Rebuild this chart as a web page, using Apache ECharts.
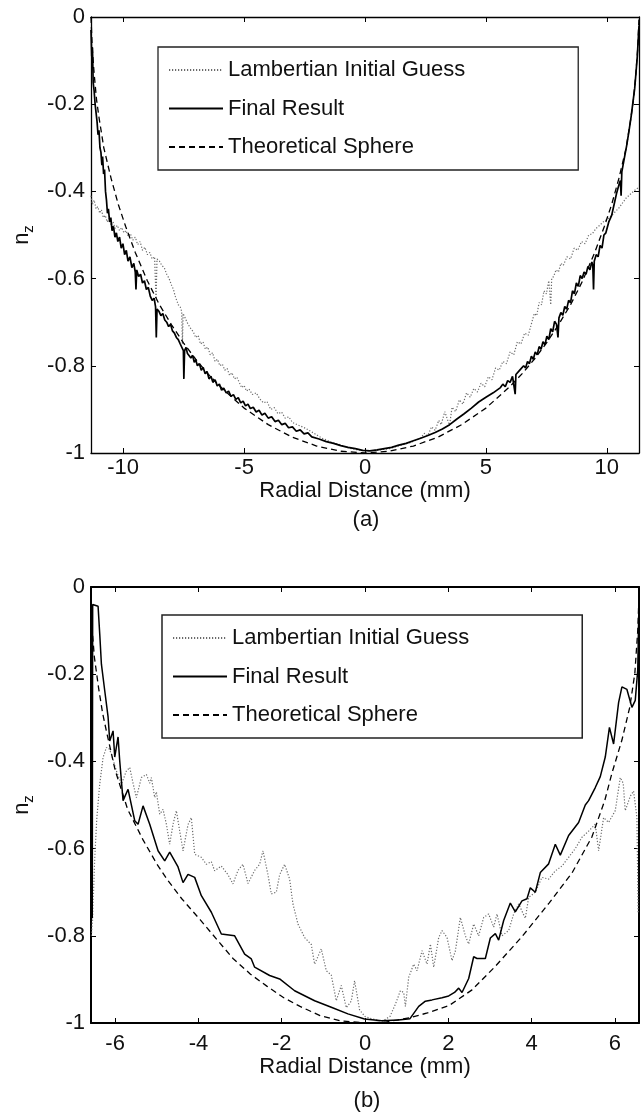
<!DOCTYPE html>
<html>
<head>
<meta charset="utf-8" />
<title>Surface normal nz vs radial distance</title>
<script src="https://cdn.jsdelivr.net/npm/echarts@6/dist/echarts.min.js"></script>
<style>
  html, body { margin: 0; padding: 0; background: #fff; }
  #main { width: 644px; height: 1116px; }
</style>
</head>
<body>
<div id="main"></div>
<script>
// ---- panel (a) ----
var aGuess = [
  [-11.33,-0.41],[-11.27,-0.43],[-11.2,-0.42],[-11.12,-0.44],[-11.05,-0.435],[-10.97,-0.45],[-10.9,-0.442],
  [-10.82,-0.46],[-10.74,-0.455],[-10.66,-0.47],[-10.58,-0.462],[-10.5,-0.478],[-10.42,-0.47],[-10.33,-0.485],
  [-10.24,-0.478],[-10.15,-0.49],[-10.06,-0.483],[-9.97,-0.495],[-9.88,-0.49],[-9.79,-0.503],[-9.7,-0.497],
  [-9.6,-0.512],[-9.5,-0.505],[-9.4,-0.522],[-9.3,-0.515],[-9.2,-0.535],[-9.1,-0.528],[-9.0,-0.545],
  [-8.9,-0.54],[-8.8,-0.555],[-8.7,-0.55],[-8.64,-0.65],[-8.6,-0.555],[-8.5,-0.56],[-8.4,-0.57],
  [-8.3,-0.575],[-8.2,-0.59],[-8.1,-0.6],[-8.0,-0.615],[-7.92,-0.625],[-7.85,-0.64],[-7.78,-0.64],
  [-7.72,-0.66],[-7.64,-0.665],[-7.58,-0.675],[-7.55,-0.75],[-7.52,-0.68],[-7.44,-0.69],[-7.36,-0.7],
  [-7.28,-0.708],[-7.2,-0.715],[-7.1,-0.722],[-7.0,-0.735],[-6.9,-0.73],[-6.8,-0.75],[-6.7,-0.745],
  [-6.6,-0.762],[-6.5,-0.757],[-6.4,-0.775],[-6.3,-0.77],[-6.2,-0.79],[-6.1,-0.785],[-6.0,-0.8],
  [-5.9,-0.796],[-5.8,-0.81],[-5.7,-0.806],[-5.6,-0.822],[-5.5,-0.816],[-5.4,-0.83],[-5.3,-0.826],
  [-5.2,-0.838],[-5.1,-0.85],[-5.0,-0.845],[-4.9,-0.858],[-4.8,-0.853],[-4.65,-0.866],[-4.5,-0.862],
  [-4.35,-0.876],[-4.2,-0.885],[-4.05,-0.882],[-3.9,-0.9],[-3.75,-0.896],[-3.6,-0.91],[-3.45,-0.906],
  [-3.3,-0.92],[-3.15,-0.917],[-3.0,-0.93],[-2.8,-0.935],[-2.47,-0.943],[-2.1,-0.955],[-1.78,-0.966],
  [-1.4,-0.975],[-1.09,-0.98],[-0.7,-0.988],[-0.4,-0.992],[0,-0.995],[0.5,-0.994],[1.0,-0.99],
  [1.5,-0.982],[1.94,-0.975],[2.3,-0.966],[2.45,-0.955],[2.6,-0.96],[2.75,-0.94],[2.9,-0.948],
  [3.05,-0.925],[3.15,-0.935],[3.3,-0.905],[3.45,-0.93],[3.5,-0.935],[3.6,-0.895],[3.75,-0.905],
  [3.9,-0.878],[4.05,-0.888],[4.2,-0.862],[4.35,-0.872],[4.5,-0.852],[4.65,-0.86],[4.8,-0.84],
  [4.95,-0.848],[5.1,-0.825],[5.25,-0.832],[5.4,-0.805],[5.55,-0.81],[5.7,-0.79],[5.85,-0.795],
  [6.0,-0.768],[6.15,-0.775],[6.3,-0.745],[6.45,-0.75],[6.6,-0.725],[6.75,-0.73],[6.9,-0.7],
  [7.0,-0.68],[7.1,-0.685],[7.2,-0.655],[7.3,-0.66],[7.4,-0.628],[7.5,-0.635],[7.6,-0.605],
  [7.68,-0.66],[7.72,-0.6],[7.8,-0.595],[7.9,-0.58],[8.0,-0.585],[8.1,-0.565],[8.2,-0.57],
  [8.35,-0.55],[8.5,-0.555],[8.65,-0.53],[8.8,-0.535],[8.95,-0.515],[9.1,-0.52],[9.25,-0.5],
  [9.4,-0.497],[9.55,-0.485],[9.7,-0.478],[9.85,-0.47],[10.0,-0.465],[10.2,-0.455],[10.5,-0.438],
  [10.8,-0.415],[11.1,-0.4],[11.33,-0.39]
];
var aFinal = [
  [-11.33,-0.03],[-11.3,-0.09],[-11.27,-0.07],[-11.24,-0.15],[-11.2,-0.17],[-11.16,-0.2],[-11.12,-0.22],
  [-11.08,-0.24],[-11.04,-0.27],[-11.0,-0.26],[-10.96,-0.3],[-10.92,-0.31],[-10.88,-0.34],[-10.85,-0.32],
  [-10.81,-0.36],[-10.77,-0.35],[-10.73,-0.4],[-10.69,-0.42],[-10.65,-0.45],[-10.61,-0.44],[-10.56,-0.47],
  [-10.51,-0.46],[-10.46,-0.49],[-10.4,-0.48],[-10.34,-0.505],[-10.28,-0.495],[-10.22,-0.515],[-10.15,-0.505],
  [-10.08,-0.53],[-10.01,-0.52],[-9.94,-0.545],[-9.87,-0.535],[-9.8,-0.56],[-9.72,-0.55],[-9.64,-0.575],
  [-9.56,-0.565],[-9.5,-0.585],[-9.47,-0.625],[-9.44,-0.58],[-9.36,-0.595],[-9.28,-0.59],[-9.2,-0.61],
  [-9.12,-0.605],[-9.04,-0.625],[-8.96,-0.62],[-8.88,-0.64],[-8.8,-0.65],[-8.72,-0.645],[-8.66,-0.665],
  [-8.63,-0.735],[-8.6,-0.67],[-8.52,-0.675],[-8.44,-0.685],[-8.36,-0.68],[-8.28,-0.695],[-8.2,-0.7],
  [-8.12,-0.71],[-8.04,-0.705],[-7.96,-0.72],[-7.88,-0.725],[-7.8,-0.735],[-7.72,-0.74],[-7.64,-0.75],
  [-7.56,-0.748],[-7.51,-0.765],[-7.49,-0.83],[-7.46,-0.765],[-7.4,-0.758],[-7.34,-0.772],[-7.27,-0.768],
  [-7.2,-0.782],[-7.13,-0.776],[-7.06,-0.792],[-7.0,-0.786],[-6.93,-0.8],[-6.85,-0.795],[-6.77,-0.81],
  [-6.69,-0.804],[-6.61,-0.818],[-6.53,-0.813],[-6.45,-0.83],[-6.37,-0.824],[-6.29,-0.838],[-6.2,-0.832],
  [-6.11,-0.846],[-6.02,-0.842],[-5.93,-0.856],[-5.84,-0.851],[-5.74,-0.862],[-5.64,-0.858],[-5.54,-0.87],
  [-5.44,-0.866],[-5.34,-0.877],[-5.24,-0.873],[-5.14,-0.885],[-5.04,-0.881],[-4.94,-0.892],[-4.84,-0.888],
  [-4.74,-0.898],[-4.62,-0.895],[-4.5,-0.906],[-4.38,-0.902],[-4.26,-0.913],[-4.14,-0.909],[-4.0,-0.92],
  [-3.86,-0.917],[-3.72,-0.928],[-3.58,-0.925],[-3.44,-0.935],[-3.3,-0.932],[-3.16,-0.942],[-3.0,-0.94],
  [-2.84,-0.95],[-2.68,-0.947],[-2.52,-0.956],[-2.36,-0.954],[-2.2,-0.963],[-1.9,-0.968],[-1.6,-0.974],
  [-1.3,-0.978],[-1.0,-0.983],[-0.7,-0.987],[-0.4,-0.99],[-0.1,-0.994],[0.2,-0.995],[0.5,-0.993],
  [0.8,-0.99],[1.1,-0.987],[1.4,-0.982],[1.7,-0.978],[2.0,-0.972],[2.3,-0.966],[2.6,-0.96],[2.9,-0.953],
  [3.2,-0.945],[3.5,-0.935],[3.8,-0.922],[4.1,-0.91],[4.4,-0.897],[4.7,-0.883],[5.0,-0.872],[5.3,-0.862],
  [5.6,-0.85],[5.7,-0.842],[5.8,-0.848],[5.9,-0.834],[6.0,-0.838],[6.1,-0.824],[6.18,-0.826],[6.21,-0.865],
  [6.24,-0.82],[6.32,-0.822],[6.4,-0.81],[6.48,-0.814],[6.56,-0.8],[6.64,-0.805],[6.72,-0.79],[6.8,-0.795],
  [6.88,-0.778],[6.96,-0.785],[7.04,-0.768],[7.12,-0.775],[7.2,-0.756],[7.28,-0.762],[7.36,-0.745],
  [7.44,-0.752],[7.52,-0.732],[7.6,-0.74],[7.68,-0.715],[7.76,-0.722],[7.84,-0.698],[7.92,-0.705],
  [7.98,-0.735],[8.02,-0.69],[8.1,-0.678],[8.18,-0.684],[8.26,-0.664],[8.34,-0.67],[8.42,-0.65],
  [8.5,-0.655],[8.58,-0.628],[8.66,-0.635],[8.74,-0.61],[8.82,-0.618],[8.9,-0.593],[8.98,-0.6],
  [9.06,-0.585],[9.14,-0.59],[9.22,-0.572],[9.3,-0.58],[9.38,-0.562],[9.42,-0.57],[9.45,-0.625],
  [9.48,-0.56],[9.56,-0.545],[9.64,-0.55],[9.72,-0.524],[9.8,-0.53],[9.88,-0.5],[9.96,-0.495],
  [10.08,-0.47],[10.2,-0.455],[10.3,-0.43],[10.4,-0.405],[10.5,-0.385],[10.56,-0.375],[10.59,-0.41],
  [10.62,-0.355],[10.72,-0.325],[10.82,-0.295],[10.92,-0.26],[11.0,-0.23],[11.08,-0.195],[11.15,-0.165],
  [11.21,-0.125],[11.26,-0.09],[11.3,-0.05],[11.33,-0.02]
];
var aSphere = [
  [-11.33,0],[-11.28,-0.07],[-11.2,-0.13],[-11.1,-0.19],[-11.0,-0.23],[-10.8,-0.3],[-10.5,-0.37],
  [-10.2,-0.43],[-9.9,-0.48],[-9.5,-0.54],[-9.0,-0.605],[-8.5,-0.66],[-8.0,-0.706],[-7.5,-0.748],
  [-7.0,-0.785],[-6.5,-0.818],[-6.0,-0.847],[-5.0,-0.897],[-4.0,-0.935],[-3.0,-0.964],[-2.0,-0.984],
  [-1.0,-0.996],[0,-1],[1.0,-0.996],[2.0,-0.984],[3.0,-0.964],[4.0,-0.935],[5.0,-0.897],[6.0,-0.847],
  [6.5,-0.818],[7.0,-0.785],[7.5,-0.748],[8.0,-0.706],[8.5,-0.66],[9.0,-0.605],[9.5,-0.54],[9.9,-0.48],
  [10.2,-0.43],[10.5,-0.37],[10.8,-0.3],[11.0,-0.23],[11.1,-0.19],[11.2,-0.13],[11.28,-0.07],[11.33,0]
];

// ---- panel (b) ----
var bGuess = [
  [-6.57,-0.8],[-6.54,-0.76],[-6.52,-0.7],[-6.49,-0.62],[-6.44,-0.53],[-6.37,-0.452],[-6.29,-0.391],
  [-6.21,-0.368],[-6.15,-0.37],[-6.09,-0.383],[-5.97,-0.422],[-5.85,-0.452],[-5.73,-0.422],[-5.65,-0.414],
  [-5.57,-0.45],[-5.49,-0.483],[-5.37,-0.437],[-5.25,-0.43],[-5.17,-0.45],[-5.13,-0.437],[-5.05,-0.483],
  [-5.01,-0.47],[-4.93,-0.521],[-4.85,-0.51],[-4.77,-0.544],[-4.69,-0.59],[-4.61,-0.544],[-4.53,-0.513],
  [-4.45,-0.56],[-4.37,-0.605],[-4.25,-0.545],[-4.17,-0.529],[-4.09,-0.613],[-3.93,-0.62],[-3.81,-0.636],
  [-3.69,-0.63],[-3.61,-0.651],[-3.45,-0.64],[-3.29,-0.66],[-3.17,-0.681],[-3.05,-0.65],[-2.93,-0.636],
  [-2.81,-0.68],[-2.65,-0.65],[-2.53,-0.636],[-2.45,-0.605],[-2.33,-0.66],[-2.25,-0.704],[-2.13,-0.7],
  [-2.05,-0.66],[-1.93,-0.636],[-1.81,-0.67],[-1.73,-0.727],[-1.61,-0.773],[-1.45,-0.804],[-1.29,-0.82],
  [-1.21,-0.865],[-1.05,-0.83],[-0.93,-0.88],[-0.81,-0.89],[-0.69,-0.949],[-0.57,-0.914],[-0.45,-0.965],
  [-0.33,-0.95],[-0.25,-0.903],[-0.13,-0.97],[0.0,-0.985],[0.15,-0.99],[0.41,-0.996],[0.6,-0.985],
  [0.73,-0.957],[0.85,-0.926],[0.93,-0.93],[0.97,-0.962],[1.05,-0.895],[1.17,-0.865],[1.25,-0.88],
  [1.37,-0.834],[1.49,-0.865],[1.57,-0.819],[1.65,-0.872],[1.77,-0.804],[1.85,-0.788],[1.97,-0.804],
  [2.09,-0.857],[2.17,-0.835],[2.29,-0.758],[2.41,-0.8],[2.49,-0.819],[2.61,-0.773],[2.73,-0.8],
  [2.85,-0.758],[2.97,-0.75],[3.09,-0.78],[3.17,-0.75],[3.29,-0.8],[3.45,-0.788],[3.57,-0.75],
  [3.69,-0.727],[3.85,-0.76],[3.93,-0.712],[4.09,-0.7],[4.25,-0.666],[4.41,-0.67],[4.57,-0.651],
  [4.73,-0.64],[4.89,-0.62],[5.05,-0.6],[5.21,-0.574],[5.37,-0.56],[5.53,-0.544],[5.61,-0.605],
  [5.73,-0.529],[5.85,-0.54],[6.01,-0.513],[6.13,-0.437],[6.2,-0.45],[6.25,-0.513],[6.37,-0.48],
  [6.45,-0.468],[6.53,-0.529],[6.56,-0.75]
];
var bFinal = [
  [-6.55,-0.76],[-6.54,-0.04],[-6.41,-0.044],[-6.37,-0.108],[-6.33,-0.177],[-6.25,-0.238],[-6.17,-0.298],
  [-6.13,-0.353],[-6.05,-0.33],[-6.01,-0.39],[-5.93,-0.344],[-5.89,-0.399],[-5.81,-0.49],[-5.69,-0.464],
  [-5.53,-0.536],[-5.45,-0.544],[-5.33,-0.502],[-5.17,-0.544],[-4.97,-0.605],[-4.81,-0.628],[-4.69,-0.608],
  [-4.49,-0.642],[-4.37,-0.678],[-4.25,-0.659],[-4.09,-0.666],[-3.93,-0.708],[-3.69,-0.746],[-3.45,-0.796],
  [-3.13,-0.8],[-2.89,-0.842],[-2.73,-0.853],[-2.65,-0.872],[-2.29,-0.891],[-2.05,-0.899],[-1.69,-0.926],
  [-1.21,-0.949],[-0.81,-0.964],[-0.41,-0.979],[-0.01,-0.991],[0.4,-0.995],[0.8,-0.993],[1.08,-0.99],
  [1.29,-0.962],[1.45,-0.95],[1.61,-0.947],[1.85,-0.942],[2.01,-0.938],[2.15,-0.93],[2.25,-0.92],
  [2.33,-0.93],[2.49,-0.898],[2.61,-0.848],[2.69,-0.852],[2.89,-0.852],[3.01,-0.805],[3.13,-0.795],
  [3.21,-0.81],[3.33,-0.765],[3.49,-0.725],[3.61,-0.745],[3.77,-0.72],[3.89,-0.715],[3.97,-0.69],
  [4.09,-0.7],[4.21,-0.655],[4.41,-0.635],[4.57,-0.59],[4.69,-0.615],[4.89,-0.57],[5.13,-0.54],
  [5.29,-0.5],[5.37,-0.49],[5.53,-0.46],[5.65,-0.435],[5.77,-0.39],[5.87,-0.322],[5.97,-0.36],
  [6.09,-0.265],[6.17,-0.229],[6.29,-0.235],[6.41,-0.276],[6.49,-0.26],[6.55,-0.19],[6.58,-0.03]
];
var bSphere = [
  [-6.58,-0.02],[-6.55,-0.1],[-6.5,-0.16],[-6.4,-0.23],[-6.3,-0.29],[-6.2,-0.335],[-6.0,-0.42],
  [-5.7,-0.51],[-5.33,-0.58],[-5.0,-0.635],[-4.75,-0.671],[-4.4,-0.715],[-3.96,-0.763],[-3.5,-0.815],
  [-3.17,-0.852],[-2.75,-0.888],[-2.35,-0.916],[-1.95,-0.942],[-1.56,-0.962],[-1.08,-0.983],[-0.6,-0.995],
  [0.0,-1.0],[0.5,-0.998],[1.06,-0.988],[1.5,-0.977],[2.02,-0.96],[2.57,-0.924],[3.12,-0.871],
  [3.77,-0.802],[4.42,-0.725],[4.97,-0.656],[5.45,-0.573],[5.76,-0.489],[5.93,-0.427],[6.17,-0.351],
  [6.36,-0.275],[6.48,-0.198],[6.55,-0.1],[6.58,-0.02]
];

var seriesNames = ['Lambertian Initial Guess', 'Final Result', 'Theoretical Sphere'];
var aXTicks = [-10, -5, 0, 5, 10];
var bXTicks = [-6, -4, -2, 0, 2, 4, 6];
var yTicks = [-1, -0.8, -0.6, -0.4, -0.2, 0];

var font = '"Liberation Sans", Arial, sans-serif';
var ink = '#111';

function panelAxes(gi, xMax, xTicks, lw, labelMargin, nameGap) {
  var line = { show: true, onZero: false, lineStyle: { color: '#000', width: lw } };
  function tick(vals) {
    return { show: true, inside: true, length: 5, customValues: vals, lineStyle: { color: '#000', width: 1 } };
  }
  var xs = [{
    gridIndex: gi, type: 'value', position: 'bottom', min: -xMax, max: xMax,
    axisLine: line, axisTick: tick(xTicks), splitLine: { show: false },
    axisLabel: { customValues: xTicks, fontSize: 22, color: ink, fontFamily: font, margin: labelMargin },
    name: 'Radial Distance (mm)', nameLocation: 'middle', nameGap: nameGap,
    nameTextStyle: { fontSize: 22, color: ink, fontFamily: font }
  }, {
    gridIndex: gi, type: 'value', position: 'top', min: -xMax, max: xMax,
    axisLine: line, axisTick: tick(xTicks), splitLine: { show: false }, axisLabel: { show: false }
  }];
  var ys = [{
    gridIndex: gi, type: 'value', position: 'left', min: -1, max: 0,
    axisLine: line, axisTick: tick(yTicks), splitLine: { show: false },
    axisLabel: { customValues: yTicks, fontSize: 22, color: ink, fontFamily: font, margin: 6 },
    name: '{n|n}{z|z}', nameLocation: 'middle', nameGap: 50, nameRotate: 90,
    nameTextStyle: {
      color: ink, fontFamily: font,
      rich: {
        n: { fontSize: 22, lineHeight: 28, fontFamily: font, color: ink },
        z: { fontSize: 15, lineHeight: 15, verticalAlign: 'bottom', fontFamily: font, color: ink }
      }
    }
  }, {
    gridIndex: gi, type: 'value', position: 'right', min: -1, max: 0,
    axisLine: line, axisTick: tick(yTicks), splitLine: { show: false }, axisLabel: { show: false }
  }];
  return { x: xs, y: ys };
}

function panelSeries(gi, guess, fin, sphere, finWidth) {
  var common = { type: 'line', xAxisIndex: gi * 2, yAxisIndex: gi * 2, symbol: 'none', animation: false, silent: true };
  return [
    Object.assign({}, common, { name: seriesNames[0], data: guess,
      lineStyle: { color: '#6a6a6a', width: 1.2, type: [1.2, 1.8] } }),
    Object.assign({}, common, { name: seriesNames[1], data: fin,
      lineStyle: { color: '#000', width: finWidth, type: 'solid' } }),
    Object.assign({}, common, { name: seriesNames[2], data: sphere,
      lineStyle: { color: '#000', width: 1.3, type: [6, 4] } })
  ];
}

function panelLegend(left, top, bw) {
  return {
    orient: 'vertical', left: left, top: top, data: seriesNames, selectedMode: false,
    itemWidth: 54, itemHeight: 14, itemGap: 16.5, padding: [12, 113, 12, 10],
    borderColor: '#222', borderWidth: bw, borderRadius: 0,
    itemStyle: { opacity: 0 },
    textStyle: { fontSize: 22, lineHeight: 22, color: ink, fontFamily: font }
  };
}

var pa = panelAxes(0, 11.33, aXTicks, 1.3, 4, 25);
var pb = panelAxes(1, 6.58, bXTicks, 2, 10, 30);

var chart = echarts.init(document.getElementById('main'), null, { renderer: 'canvas' });
chart.setOption({
  backgroundColor: '#fff',
  animation: false,
  grid: [
    { left: 91, top: 17, width: 548, height: 436 },
    { left: 91, top: 587, width: 548, height: 436 }
  ],
  xAxis: pa.x.concat(pb.x),
  yAxis: pa.y.concat(pb.y),
  legend: [panelLegend(158, 47, 1.3), panelLegend(162, 615, 1.5)],
  graphic: [
    { type: 'text', x: 366, y: 520, style: { text: '(a)', fontSize: 22, fontFamily: font, fill: ink, align: 'center', verticalAlign: 'middle' } },
    { type: 'text', x: 367, y: 1101, style: { text: '(b)', fontSize: 22, fontFamily: font, fill: ink, align: 'center', verticalAlign: 'middle' } }
  ],
  series: panelSeries(0, aGuess, aFinal, aSphere, 1.7).concat(panelSeries(1, bGuess, bFinal, bSphere, 1.5))
});
</script>
</body>
</html>
